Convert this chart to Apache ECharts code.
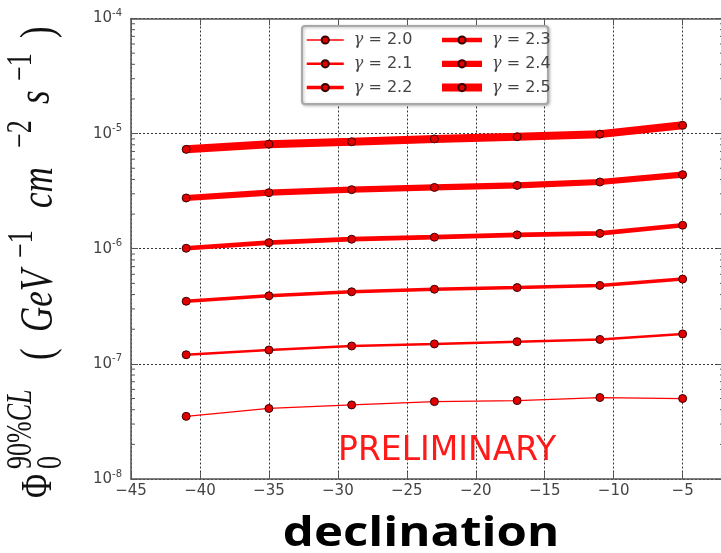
<!DOCTYPE html>
<html>
<head>
<meta charset="utf-8">
<script src="https://cdn.jsdelivr.net/npm/echarts@6/dist/echarts.min.js"></script>
<style>
  html, body { margin: 0; padding: 0; background: #fff; }
  #chart { width: 721px; height: 553px; }
</style>
</head>
<body>
<div id="chart"></div>
<script>
// Source declinations (degrees) at which the limits were computed
const declinations = [-41, -35, -29, -23, -17, -11, -5];

// 90% CL flux normalisation upper limits, one list per spectral index
const gammaLabels = ['γ = 2.0', 'γ = 2.1', 'γ = 2.2', 'γ = 2.3', 'γ = 2.4', 'γ = 2.5'];
const fluxG20 = [3.5e-8, 4.1e-8, 4.4e-8, 4.7e-8, 4.8e-8, 5.1e-8, 5.0e-8];
const fluxG21 = [1.2e-7, 1.32e-7, 1.43e-7, 1.49e-7, 1.56e-7, 1.63e-7, 1.82e-7];
const fluxG22 = [3.5e-7, 3.9e-7, 4.23e-7, 4.45e-7, 4.6e-7, 4.8e-7, 5.45e-7];
const fluxG23 = [1.01e-6, 1.13e-6, 1.21e-6, 1.26e-6, 1.32e-6, 1.36e-6, 1.6e-6];
const fluxG24 = [2.76e-6, 3.07e-6, 3.26e-6, 3.41e-6, 3.55e-6, 3.8e-6, 4.4e-6];
const fluxG25 = [7.3e-6, 8.1e-6, 8.5e-6, 9.0e-6, 9.4e-6, 9.9e-6, 1.18e-5];
const fluxSets = [fluxG20, fluxG21, fluxG22, fluxG23, fluxG24, fluxG25];

// Axis ranges
const xMin = -45, xMax = -2, xInterval = 5;
const yMin = 1e-8, yMax = 1e-4;

// Line thickness grows with the spectral index
const lineWidths = [1.3, 2.5, 3.5, 4.7, 6.2, 8];

// Log-axis minor tick values (2..9 within every decade)
const minorTicks = [];
for (let e = -8; e < -4; e++) {
  for (let m = 2; m <= 9; m++) minorTicks.push(m * Math.pow(10, e));
}

const SPINE = '#555';
const TICK_LABEL = '#444';

const chart = echarts.init(document.getElementById('chart'), null, { renderer: 'canvas' });

const lineSeries = fluxSets.map((vals, i) => ({
  name: gammaLabels[i],
  type: 'line',
  data: declinations.map((d, j) => [d, vals[j]]),
  symbol: 'circle',
  symbolSize: 8,
  showAllSymbol: true,
  z: 3,
  lineStyle: { color: '#ff0000', width: lineWidths[i] },
  itemStyle: { color: '#e00000', borderColor: '#3a0000', borderWidth: 1 },
  emphasis: { disabled: true },
  animation: false
}));

const minorTickSeries = {
  type: 'custom',
  silent: true,
  clip: false,
  z: 4,
  animation: false,
  data: minorTicks.map(v => [xMin, v]),
  renderItem(params, api) {
    const v = api.value(1);
    const l = api.coord([xMin, v]);
    const r = api.coord([xMax, v]);
    const st = { stroke: SPINE, lineWidth: 1 };
    return {
      type: 'group',
      children: [
        { type: 'line', shape: { x1: l[0], y1: l[1], x2: l[0] + 4, y2: l[1] }, style: st },
        { type: 'line', shape: { x1: r[0], y1: r[1], x2: r[0] - 4, y2: r[1] }, style: st }
      ]
    };
  }
};

// Pieces of the rotated y-axis title: text, advance along the text, baseline (screen x), size, italic
const S = 1.35;
function piece(text, x, baseScreenX, size, italic, rich) {
  const yb = (baseScreenX - 54) / S;
  return {
    type: 'text',
    x: x,
    y: yb - 0.3 * size,
    style: {
      text: text,
      fontFamily: '"Liberation Serif", serif',
      fontSize: size,
      fontStyle: italic ? 'italic' : 'normal',
      fill: '#111',
      align: 'left',
      verticalAlign: 'middle',
      rich: rich
    },
    z: 10
  };
}
const titlePieces = [
  piece('Φ', 0, 53, 33, false),
  piece('0', 29, 62, 26, false),
  piece('90%{i|CL}', 29, 32, 26, false, { i: { fontStyle: 'italic', fontSize: 26, fontFamily: '"Liberation Serif", serif', fill: '#111' } }),
  piece('(', 138, 54, 35, false),
  piece('GeV', 166, 54, 35, true),
  piece('−1', 240, 33, 26, false),
  piece('cm', 290, 54, 35, true),
  piece('−2', 350, 32, 26, false),
  piece('s', 394, 51, 35, true),
  piece('−1', 417, 32, 26, false),
  piece(')', 460, 54, 35, false)
];

function legendData(names, from) {
  return names.map((n, k) => ({ name: n, lineStyle: { width: lineWidths[from + k] } }));
}
const legendCommon = {
  orient: 'vertical',
  top: 30,
  itemHeight: 9,
  itemGap: 3.8,
  selectedMode: false,
  z: 6,
  padding: 0,
  formatter: name => '{g|γ}' + name.slice(1),
  textStyle: {
    color: TICK_LABEL,
    fontFamily: '"DejaVu Sans"',
    fontSize: 16,
    lineHeight: 20,
    padding: [0, 0, 0, 5],
    rich: {
      g: { fontFamily: '"DejaVu Serif"', fontStyle: 'italic', fontSize: 16, color: TICK_LABEL, lineHeight: 20 }
    }
  }
};

const option = {
  backgroundColor: '#ffffff',
  animation: false,
  grid: {
    left: 131, top: 18.5, width: 593, height: 460.5,
    containLabel: false,
    outerBoundsMode: 'none'
  },
  legend: [
    Object.assign({}, legendCommon, { left: 305, itemWidth: 37, data: legendData(gammaLabels.slice(0, 3), 0) }),
    Object.assign({}, legendCommon, { left: 438, itemWidth: 40, data: legendData(gammaLabels.slice(3), 3) })
  ],
  xAxis: [
    {
      type: 'value', min: xMin, max: xMax, interval: xInterval, position: 'bottom',
      axisLine: { show: true, onZero: false, lineStyle: { color: SPINE, width: 1.5 } },
      axisTick: { show: true, inside: true, length: 7, lineStyle: { color: SPINE, width: 1 } },
      axisLabel: {
        color: TICK_LABEL, fontFamily: '"DejaVu Sans"', fontSize: 15, margin: 5,
        showMaxLabel: false,
        formatter: v => (v < 0 ? '\u2212' + (-v) : String(v))
      },
      splitLine: { show: true, lineStyle: { color: '#333', width: 1, type: [2, 2] } }
    },
    {
      type: 'value', min: xMin, max: xMax, interval: xInterval, position: 'top',
      axisLine: { show: true, onZero: false, lineStyle: { color: SPINE, width: 1.5 } },
      axisTick: { show: true, inside: true, length: 7, lineStyle: { color: SPINE, width: 1 } },
      axisLabel: { show: false },
      splitLine: { show: false }
    }
  ],
  yAxis: [
    {
      type: 'log', logBase: 10, min: yMin, max: yMax, position: 'left',
      axisLine: { show: true, onZero: false, lineStyle: { color: SPINE, width: 1.5 } },
      axisTick: { show: true, inside: true, length: 7, lineStyle: { color: SPINE, width: 1 } },
      axisLabel: {
        margin: 9,
        formatter: v => '{b|10}{e|' + Math.round(Math.log10(v)) + '}',
        rich: {
          b: { color: TICK_LABEL, fontFamily: '"DejaVu Sans"', fontSize: 15 },
          e: { color: TICK_LABEL, fontFamily: '"DejaVu Sans"', fontSize: 10, padding: [0, 0, 10, 0] }
        }
      },
      splitLine: { show: true, lineStyle: { color: '#333', width: 1, type: [2, 2] } }
    },
    {
      type: 'log', logBase: 10, min: yMin, max: yMax, position: 'right',
      axisLine: { show: true, onZero: false, lineStyle: { color: SPINE, width: 1.5 } },
      axisTick: { show: true, inside: true, length: 7, lineStyle: { color: SPINE, width: 1 } },
      axisLabel: { show: false },
      splitLine: { show: false }
    }
  ],
  graphic: [
    {
      type: 'rect', z: 5,
      shape: { x: 302, y: 26, width: 246, height: 78, r: 3 },
      style: { fill: '#fff', stroke: '#a8a8a8', lineWidth: 2, shadowBlur: 3, shadowColor: 'rgba(0,0,0,0.25)', shadowOffsetX: 1, shadowOffsetY: 1 }
    },
    {
      type: 'text', z: 5, x: 338, y: 468,
      style: {
        text: 'PRELIMINARY', fill: '#ff1a1a',
        fontFamily: '"DejaVu Sans"', fontSize: 33,
        align: 'left', verticalAlign: 'bottom'
      }
    },
    {
      // x-axis title
      type: 'text', z: 5, x: 421, y: 534, scaleX: 1.17,
      style: {
        text: 'declination', fill: '#000',
        fontFamily: '"Open Sans"', fontWeight: 'bold', fontSize: 42,
        align: 'center', verticalAlign: 'middle'
      }
    },
    {
      type: 'group', x: 54, y: 498, rotation: Math.PI / 2, scaleY: S,
      children: titlePieces
    }
  ],
  series: lineSeries.concat([minorTickSeries])
};

chart.setOption(option);
</script>
</body>
</html>
